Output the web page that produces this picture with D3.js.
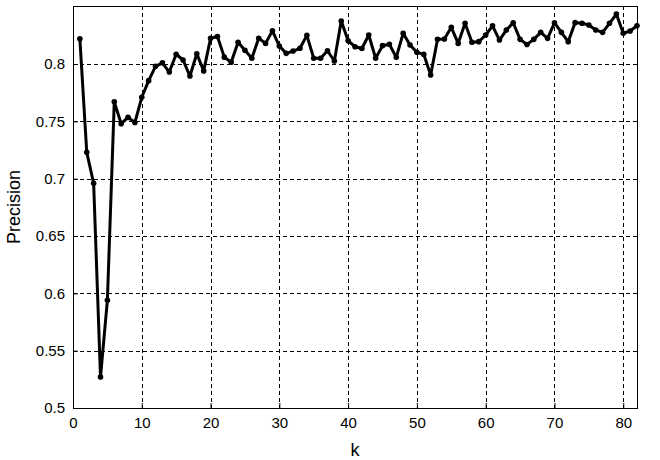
<!DOCTYPE html>
<html>
<head>
<meta charset="utf-8">
<script src="https://cdn.jsdelivr.net/npm/d3@7"></script>
<style>
  body { margin: 0; background: #fff; }
  svg { display: block; font-family: "Liberation Sans", Arial, sans-serif; }
</style>
</head>
<body>
<div id="chart"></div>
<script>
// data
var kValues = d3.range(1, 83);
var precision = [
  0.822, 0.723, 0.696, 0.527, 0.594, 0.767, 0.748, 0.7535, 0.749, 0.771,
  0.7855, 0.798, 0.801, 0.793, 0.8085, 0.8035, 0.7895, 0.809, 0.794, 0.8225,
  0.824, 0.806, 0.8015, 0.819, 0.812, 0.805, 0.8225, 0.818, 0.829, 0.8157,
  0.8093, 0.8113, 0.8137, 0.825, 0.805, 0.805, 0.8116, 0.8026, 0.8375, 0.8203,
  0.8151, 0.8135, 0.8253, 0.805, 0.816, 0.8172, 0.8058, 0.8268, 0.8166, 0.8102,
  0.8084, 0.7904, 0.8215, 0.8218, 0.832, 0.818, 0.8355, 0.819, 0.8195, 0.8253,
  0.8333, 0.8209, 0.8296, 0.836, 0.8215, 0.817, 0.8215, 0.8276, 0.8224, 0.836,
  0.8276, 0.8195, 0.8361, 0.8355, 0.834, 0.8296, 0.8276, 0.8355, 0.8436, 0.8268,
  0.8288, 0.8334
];
var xTicks = [0, 10, 20, 30, 40, 50, 60, 70, 80];
var yTicks = [0.5, 0.55, 0.6, 0.65, 0.7, 0.75, 0.8];

var data = kValues.map(function(k, i) { return {k: k, p: precision[i]}; });

var w = 660, h = 460;
var m = {top: 6, right: 23, bottom: 52, left: 73};
var iw = w - m.left - m.right;
var ih = h - m.top - m.bottom;

var svg = d3.select("#chart")
            .append("svg")
            .attr("width", w)
            .attr("height", h);

var g = svg.append("g")
           .attr("transform", "translate(" + m.left + "," + m.top + ")");

// scales
var xScale = d3.scaleLinear().domain([0, 82]).range([0, iw]);
var yScale = d3.scaleLinear().domain([0.5, 0.8506]).range([ih, 0]);

// grid
g.append("g")
 .selectAll("line")
 .data(xTicks.slice(1))
 .enter()
 .append("line")
 .attr("x1", (d) => Math.round(xScale(d)) + 0.5)
 .attr("x2", (d) => Math.round(xScale(d)) + 0.5)
 .attr("y1", 0)
 .attr("y2", ih)
 .attr("stroke", "#000")
 .attr("stroke-width", 1)
 .attr("stroke-dasharray", "4,3");

g.append("g")
 .selectAll("line")
 .data(yTicks.slice(1))
 .enter()
 .append("line")
 .attr("x1", 0)
 .attr("x2", iw)
 .attr("y1", (d) => Math.round(yScale(d)) + 0.5)
 .attr("y2", (d) => Math.round(yScale(d)) + 0.5)
 .attr("stroke", "#000")
 .attr("stroke-width", 1)
 .attr("stroke-dasharray", "4,3");

// axes
var xAxis = d3.axisBottom(xScale)
              .tickValues(xTicks)
              .tickSizeInner(-5)
              .tickSizeOuter(0)
              .tickPadding(9)
              .tickFormat(d3.format("d"));

var yAxis = d3.axisLeft(yScale)
              .tickValues(yTicks)
              .tickSizeInner(-5)
              .tickSizeOuter(0)
              .tickPadding(8)
              .tickFormat((d) => String(+d.toFixed(2)));

g.append("g")
 .attr("transform", "translate(0," + ih + ")")
 .call(xAxis)
 .call((s) => s.select(".domain").remove())
 .selectAll("text")
 .style("font-size", "15px")
 .style("font-family", "Liberation Sans, Arial, sans-serif")
 .attr("fill", "#000");

g.append("g")
 .call(yAxis)
 .call((s) => s.select(".domain").remove())
 .selectAll("text")
 .style("font-size", "15px")
 .style("font-family", "Liberation Sans, Arial, sans-serif")
 .attr("fill", "#000");

// box
g.append("rect")
 .attr("x", 0.5)
 .attr("y", 0.5)
 .attr("width", iw)
 .attr("height", ih)
 .attr("fill", "none")
 .attr("stroke", "#000")
 .attr("stroke-width", 1);

// line
var line = d3.line()
             .x((d) => xScale(d.k))
             .y((d) => yScale(d.p));

g.append("path")
 .datum(data)
 .attr("d", line)
 .attr("fill", "none")
 .attr("stroke", "#000")
 .attr("stroke-width", 3)
 .attr("stroke-linejoin", "round");

g.append("g")
 .selectAll("circle")
 .data(data)
 .enter()
 .append("circle")
 .attr("cx", (d) => xScale(d.k))
 .attr("cy", (d) => yScale(d.p))
 .attr("r", 2.8)
 .attr("fill", "#000");

// labels
svg.append("text")
   .attr("x", m.left + iw / 2)
   .attr("y", 456)
   .attr("text-anchor", "middle")
   .style("font-size", "18px")
   .text("k");

svg.append("text")
   .attr("transform", "translate(20," + (m.top + ih / 2) + ") rotate(-90)")
   .attr("text-anchor", "middle")
   .style("font-size", "18px")
   .text("Precision");
</script>
</body>
</html>
